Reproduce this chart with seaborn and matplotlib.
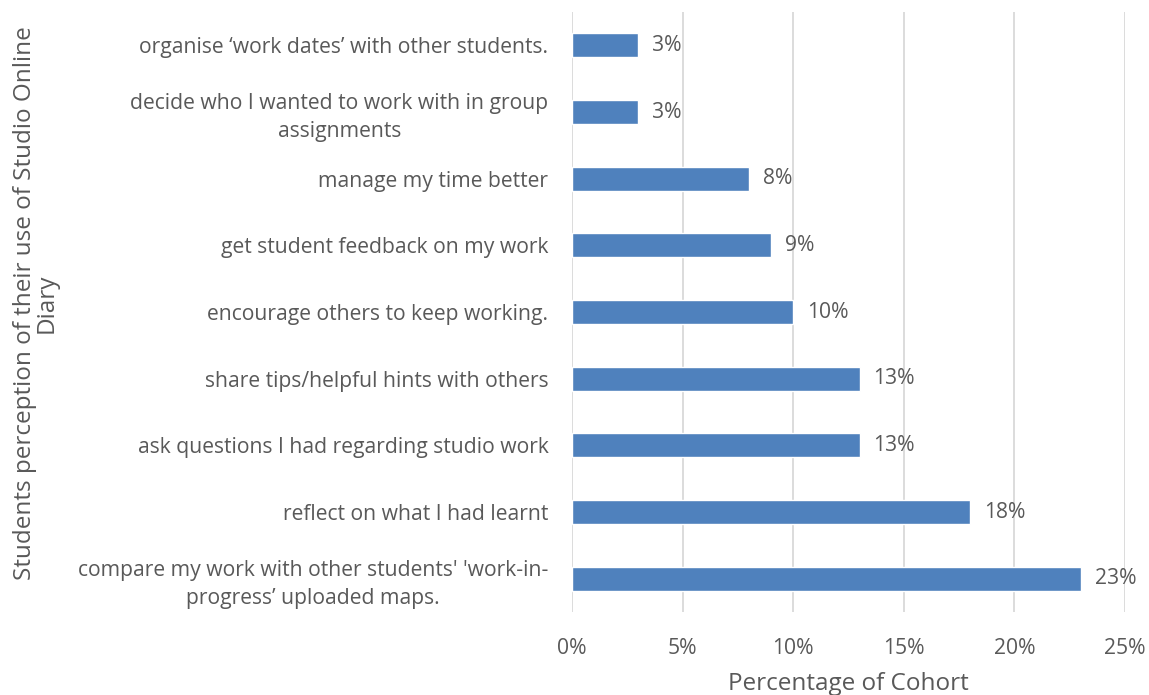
import matplotlib
matplotlib.use("Agg")
import matplotlib.pyplot as plt
import seaborn as sns
import pandas as pd

categories = [
    "organise \u2018work dates\u2019 with other students.",
    "decide who I wanted to work with in group\nassignments",
    "manage my time better",
    "get student feedback on my work",
    "encourage others to keep working.",
    "share tips/helpful hints with others",
    "ask questions I had regarding studio work",
    "reflect on what I had learnt",
    "compare my work with other students' 'work-in-\nprogress\u2019 uploaded maps.",
]
values = [3, 3, 8, 9, 10, 13, 13, 18, 23]
x_ticks = [0, 5, 10, 15, 20, 25]
x_tick_labels = ["0%", "5%", "10%", "15%", "20%", "25%"]

sns.set_theme(style="white")
plt.rcParams["font.family"] = ["Open Sans", "DejaVu Sans"]
text_color = "#595959"

df = pd.DataFrame({"category": categories, "value": values})

fig = plt.figure(figsize=(11.49, 6.95), dpi=100)
ax = fig.add_axes([572 / 1149, 83 / 695, 553 / 1149, 600 / 695])

sns.barplot(data=df, x="value", y="category", orient="h", color="#4f81bd",
            width=0.36, saturation=1, ax=ax, zorder=3)

ax.set_xlim(0, 25)
ax.set_ylim(len(categories) - 0.5, -0.5)
ax.set_xticks(x_ticks)
ax.set_xticklabels(x_tick_labels)
ax.grid(axis="x", color="#d9d9d9", linewidth=1.3, zorder=0)
ax.grid(axis="y", visible=False)
for s in ax.spines.values():
    s.set_visible(False)
ax.tick_params(axis="both", length=0, colors=text_color, labelsize=15.2)
ax.tick_params(axis="x", pad=19)
ax.tick_params(axis="y", pad=17)
for lbl in ax.get_yticklabels():
    lbl.set_multialignment("center")
    lbl.set_linespacing(1.4)

ax.bar_label(ax.containers[0], labels=[f"{v}%" for v in values], padding=10,
             color=text_color, fontsize=15.2)

ax.set_xlabel("Percentage of Cohort", color=text_color, fontsize=17.5)
ax.xaxis.set_label_coords(0.5, -0.1)
ax.set_ylabel("Students perception of their use of Studio Online\nDiary",
              color=text_color, fontsize=17.5, multialignment="center",
              linespacing=0.85)
ax.yaxis.set_label_coords(-0.929, 0.515)

fig.savefig("out.png", dpi=100)
